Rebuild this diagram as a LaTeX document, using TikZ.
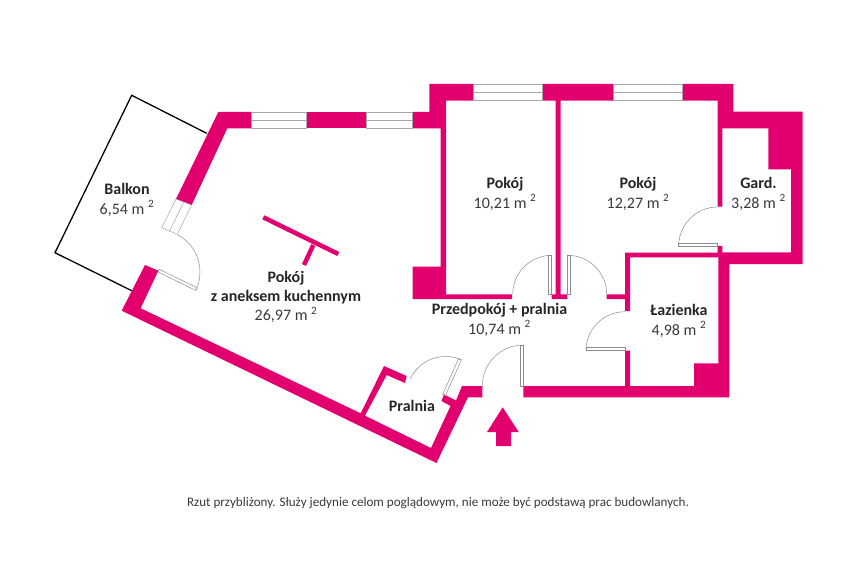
\documentclass[tikz,border=0pt]{standalone}
\usepackage{fontspec}
\setmainfont{Carlito}
\definecolor{wallpink}{HTML}{E2006E}
\definecolor{labeltext}{HTML}{3A3A3A}
\tikzset{
  wall/.style={fill=wallpink},
  glass/.style={draw=black!35,line width=0.5pt},
  leaf/.style={draw=black!45,line width=0.5pt},
  room/.style={align=center,text=labeltext,font=\fontsize{16}{19.3}\selectfont,inner sep=0pt},
  balcony/.style={draw=black,line width=1.3pt,line join=miter}
}
\newcommand{\name}[1]{{\bfseries\color{black!85}#1}}
\begin{document}
\begin{tikzpicture}[x=1pt,y=-1pt]
\useasboundingbox (0,0) rectangle (863,575);
\draw[balcony] (206.7,133.3) -- (131.7,95.3) -- (55,252.7) -- (131.7,290.7);
\fill[wall] (218.3,112) -- (251.7,112) -- (251.7,128.3) -- (227.3,128.3) -- (191.7,205) -- (176,199) -- cycle;
\fill[wall] (306.7,112) rectangle (366.7,128.3);
\fill[wall] (412.7,112) -- (429.3,112) -- (429.3,84) -- (473.3,84) -- (473.3,100.7) -- (446,100.7) -- (446,294.3) -- (512,294.3) -- (512,299) -- (412.7,299) -- (412.7,266.7) -- (440.7,266.7) -- (440.7,128.3) -- (412.7,128.3) -- cycle;
\fill[wall] (542,84) -- (613.7,84) -- (613.7,100.7) -- (560.7,100.7) -- (560.7,294.3) -- (567.3,294.3) -- (567.3,299) -- (551.7,299) -- (551.7,294.3) -- (555.5,294.3) -- (555.5,100.7) -- (542,100.7) -- cycle;
\fill[wall] (682.7,84) -- (733.3,84) -- (733.3,111.7) -- (802.7,111.7) -- (802.7,264) -- (729.3,264) -- (729.3,397.3) -- (523.3,397.3) -- (523.3,386) -- (625,386) -- (625,350.7) -- (630,350.7) -- (630,386) -- (694,386) -- (694,363.3) -- (718.3,363.3) -- (718.3,257.3) -- (630,257.3) -- (630,311) -- (625,311) -- (625,299) -- (606.7,299) -- (606.7,294.3) -- (625,294.3) -- (625,252.5) -- (717.7,252.5) -- (717.7,246) -- (722.3,246) -- (722.3,252.3) -- (791,252.3) -- (791,169.3) -- (768.3,169.3) -- (768.3,128.3) -- (722.3,128.3) -- (722.3,206.7) -- (717.7,206.7) -- (717.7,100.7) -- (682.7,100.7) -- cycle;
\fill[wall] (145,265) -- (158.3,270.7) -- (140.7,308.3) -- (360.7,413.3) -- (384,366) -- (406.7,376) -- (405,383) -- (386.7,375) -- (365,415.7) -- (431,448) -- (450.5,406) -- (441.5,401) -- (444,394.5) -- (456,400.5) -- (462,386) -- (482.3,386) -- (482.3,397.3) -- (468,397.3) -- (436.5,463) -- (121.7,310.7) -- cycle;
\foreach \xa/\xb/\ya/\yb in {251.7/306.7/112/128.3, 366.7/412.7/112/128.3, 473.3/542/84/100.7, 613.7/682.7/84/100.7}
{
  \draw[glass] (\xa,\ya) rectangle (\xb,\yb);
  \draw[glass] (\xa,{(\ya+\yb)/2}) -- (\xb,{(\ya+\yb)/2});
}
\draw[glass] (176,199) -- (191.7,205) -- (177.3,234.3) -- (161.7,227.7) -- cycle;
\draw[glass] (183.8,202) -- (169.5,231);
\foreach \hx/\hy/\r/\a/\e in {551.7/294.3/39/-90/-180, 567.7/294.3/39/-90/0, 625/350.7/39/180/270, 717.7/246/39/180/270, 523.3/386/41/-90/-180, 445.5/395.5/39/-66/-155, 158/272/42/26/-62}
{
  \pgfmathsetmacro{\s}{\a + 90 * sign(\e - \a)}
  \draw[leaf] (\hx,\hy) -- ++(\a:\r) -- ++(\s:3) -- ++(\a:-\r) -- cycle;
  \draw[leaf] (\hx,\hy) ++(\a:\r) arc[start angle=\a, end angle=\e, radius=\r];
}
\draw[wallpink,line width=4.5pt] (263.3,217.3) -- (338.3,254);
\draw[wallpink,line width=4.5pt] (313.3,245) -- (304,265);
\fill[wall] (502.7,407.3) -- (518.7,432) -- (511,432) -- (511,446) -- (496,446) -- (496,432) -- (487,432) -- cycle;
\node[room] (balkon) at (127,200) {\name{Balkon}\\6,54 m \textsuperscript{2}};
\node[room] (salon) at (286,297) {\name{Pokój}\\\name{z aneksem kuchennym}\\26,97 m \textsuperscript{2}};
\node[room] (pokoja) at (505,194) {\name{Pokój}\\10,21 m \textsuperscript{2}};
\node[room] (pokojb) at (638,194) {\name{Pokój}\\12,27 m \textsuperscript{2}};
\node[room] (gard) at (758.5,194) {\name{Gard.}\\3,28 m \textsuperscript{2}};
\node[room] (przedpokoj) at (499.5,320) {\name{Przedpokój + pralnia}\\10,74 m \textsuperscript{2}};
\node[room] (lazienka) at (679,321) {\name{Łazienka}\\4,98 m \textsuperscript{2}};
\node[room] (pralnia) at (412,406) {\name{Pralnia}};
\node[text=labeltext,font=\fontsize{13.1}{15}\selectfont,inner sep=0pt] (rzut) at (438,503) {Rzut przybliżony. Służy jedynie celom poglądowym, nie może być podstawą prac budowlanych.};
\end{tikzpicture}
\end{document}
